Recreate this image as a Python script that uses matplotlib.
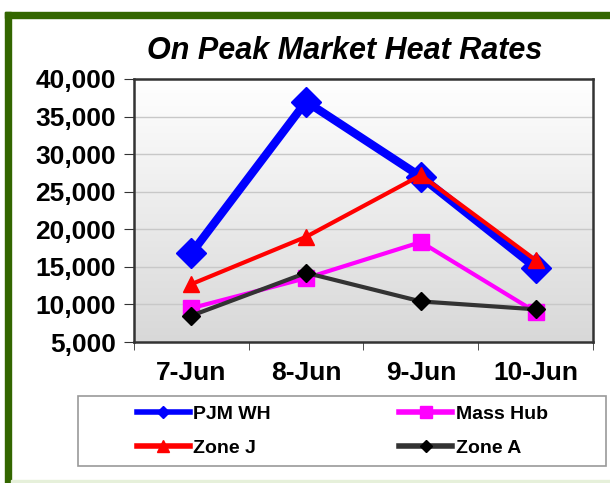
import numpy as np
import matplotlib.pyplot as plt
from matplotlib.lines import Line2D
from matplotlib.patches import Rectangle

plt.rcParams['font.family'] = ['Liberation Sans', 'DejaVu Sans']

days = ['7-Jun', '8-Jun', '9-Jun', '10-Jun']
pjm_wh = [16800, 37000, 27000, 14900]
mass_hub = [9500, 13500, 18300, 9000]
zone_j = [12700, 19000, 27200, 15900]
zone_a = [8500, 14200, 10400, 9350]
yticks = [5000, 10000, 15000, 20000, 25000, 30000, 35000, 40000]

W, H = 610, 483
fig = plt.figure(figsize=(W / 100, H / 100), dpi=100)

# green frame around the slide
fig.patches.append(Rectangle((5 / W, 0), 6 / W, (H - 12) / H, transform=fig.transFigure,
                             color='#336600', zorder=0))
fig.patches.append(Rectangle((5 / W, (H - 18) / H), 1 - 5 / W, 6 / H, transform=fig.transFigure,
                             color='#336600', zorder=0))
fig.patches.append(Rectangle((11 / W, 0), 1, 3 / H, transform=fig.transFigure,
                             color='#e6f0da', zorder=0))
# legend box
fig.patches.append(Rectangle((78 / W, 1 - 466 / H), (606 - 78) / W, 70 / H, transform=fig.transFigure,
                             facecolor='white', edgecolor='#999999', lw=1.2, zorder=1))

ax = fig.add_axes([134 / W, 1 - 342 / H, (593 - 134) / W, (342 - 79) / H])
x = np.arange(len(days))

# gradient plot background
grad = np.linspace(0, 1, 256).reshape(-1, 1)
ax.imshow(grad, cmap=plt.matplotlib.colors.LinearSegmentedColormap.from_list('g', ['#d8d8d8', '#ffffff']),
          extent=[-0.5, 3.5, 5000, 40000], aspect='auto', origin='lower', zorder=0)

for yv in yticks[1:-1]:
    ax.axhline(yv, color='#c8c8c8', lw=1, zorder=1)

ax.plot(x, pjm_wh, color='#0000ff', lw=6, marker='D', ms=15, zorder=3)
ax.plot(x, mass_hub, color='#ff00ff', lw=3, marker='s', ms=11, zorder=3)
ax.plot(x, zone_j, color='#ff0000', lw=3, marker='^', ms=11, zorder=4)
ax.plot(x, zone_a, color='#333333', lw=3, marker='D', ms=9, markerfacecolor='black',
        markeredgecolor='black', zorder=5)

ax.set_xlim(-0.5, 3.5)
ax.set_ylim(5000, 40000)
ax.set_yticks(yticks)
ax.set_yticklabels([f'{v:,}' for v in yticks], fontsize=19, fontweight='bold')
ax.set_xticks(x)
ax.set_xticklabels(days, fontsize=19, fontweight='bold')
ax.set_xticks([-0.5, 0.5, 1.5, 2.5, 3.5], minor=True)
ax.tick_params(axis='x', which='major', length=0, pad=14)
ax.tick_params(axis='x', which='minor', length=6, color='#333333')
ax.tick_params(axis='y', length=7, color='#333333', pad=6)
for s in ax.spines.values():
    s.set_color('#333333')
    s.set_linewidth(1.8)

fig.text(345 / W, 1 - 51 / H, 'On Peak Market Heat Rates', ha='center', va='center',
         fontsize=22, fontweight='bold', fontstyle='italic')

# legend fills column-wise: order so rows read PJM WH / Mass Hub, Zone J / Zone A
handles = [
    Line2D([], [], color='#0000ff', lw=4, marker='D', ms=6),
    Line2D([], [], color='#ff0000', lw=4, marker='^', ms=8),
    Line2D([], [], color='#ff00ff', lw=4, marker='s', ms=8),
    Line2D([], [], color='#333333', lw=4, marker='D', ms=6, markerfacecolor='black', markeredgecolor='black'),
]
labels = ['PJM WH', 'Zone J', 'Mass Hub', 'Zone A']
leg = fig.legend(handles, labels, ncol=2, loc='center left',
                 bbox_to_anchor=(137 / W, 1 - 431 / H),
                 prop={'size': 14, 'weight': 'bold'}, frameon=False,
                 handlelength=2.7, handletextpad=0.2, columnspacing=6.6, labelspacing=0.85,
                 borderpad=0, borderaxespad=0)

fig.savefig('out.png', dpi=100, facecolor='white')
